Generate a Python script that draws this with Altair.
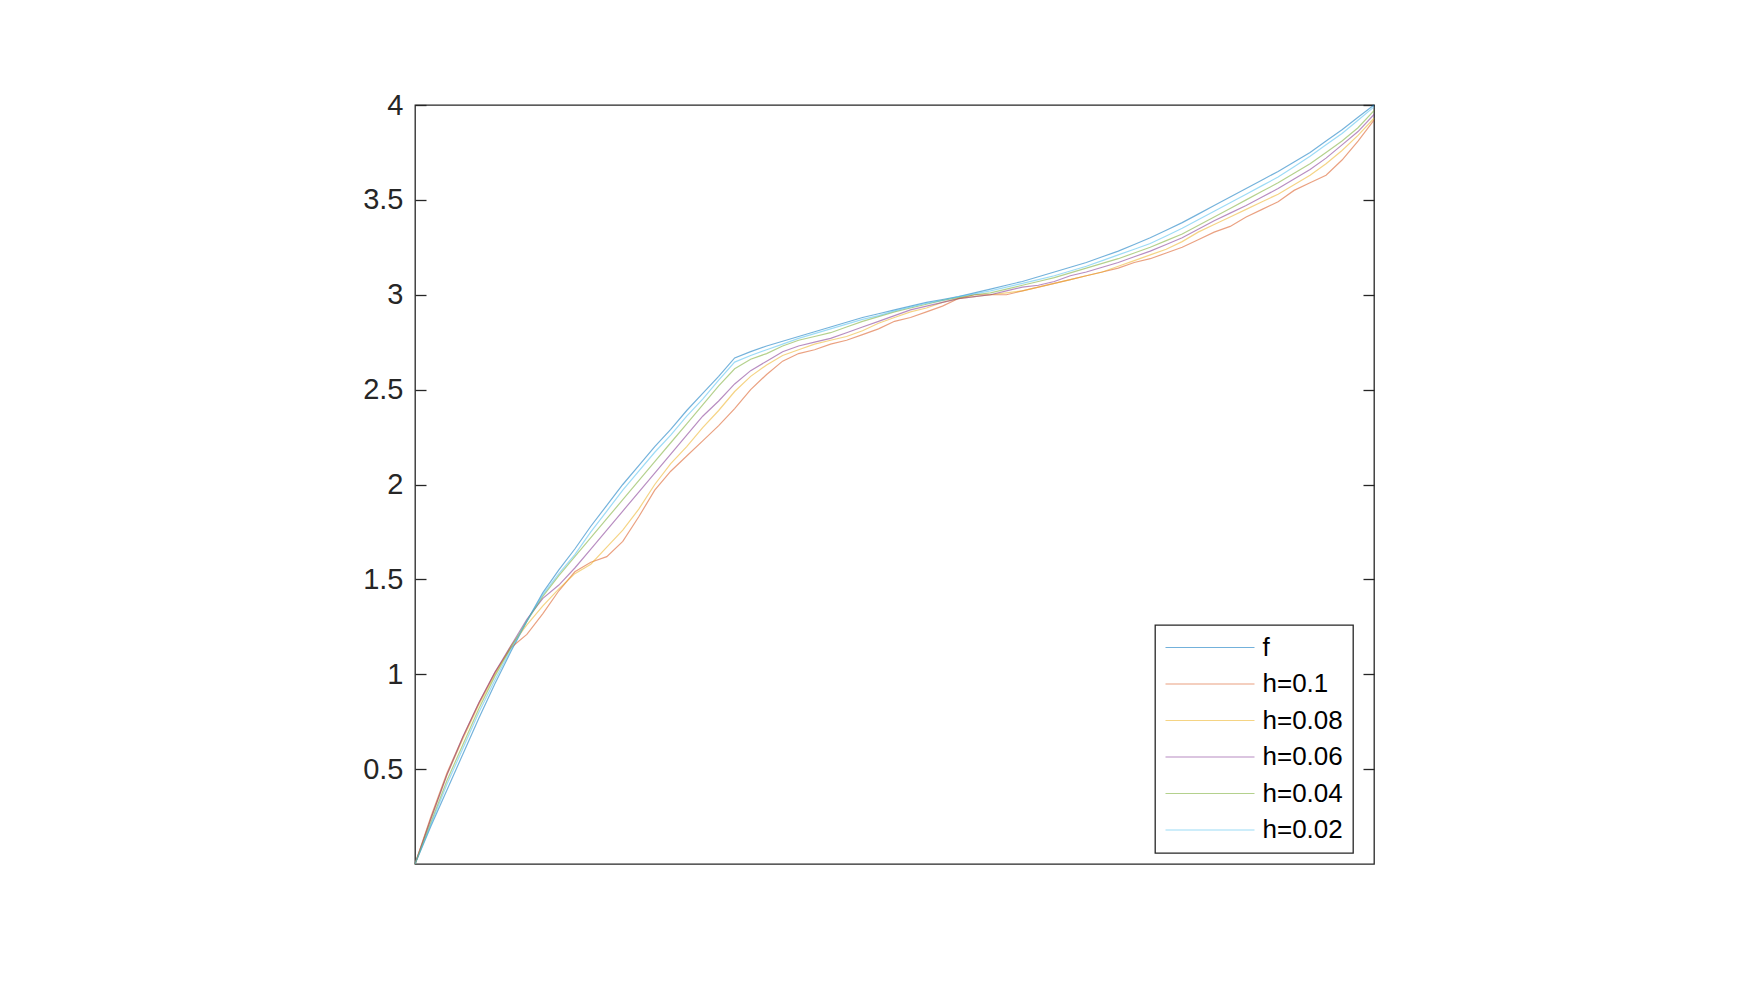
import altair as alt
import pandas as pd

# x positions (the axis carries no tick labels); 61 samples across the range
x_vals = [0.0, 0.05, 0.1, 0.15, 0.2, 0.25, 0.3, 0.35, 0.4, 0.45,
          0.5, 0.55, 0.6, 0.65, 0.7, 0.75, 0.8, 0.85, 0.9, 0.95,
          1.0, 1.05, 1.1, 1.15, 1.2, 1.25, 1.3, 1.35, 1.4, 1.45,
          1.5, 1.55, 1.6, 1.65, 1.7, 1.75, 1.8, 1.85, 1.9, 1.95,
          2.0, 2.05, 2.1, 2.15, 2.2, 2.25, 2.3, 2.35, 2.4, 2.45,
          2.5, 2.55, 2.6, 2.65, 2.7, 2.75, 2.8, 2.85, 2.9, 2.95, 3.0]

f_vals = [0, 0.20, 0.39, 0.58, 0.77, 0.95, 1.12, 1.28, 1.43, 1.55,
          1.66, 1.78, 1.89, 2.00, 2.10, 2.20, 2.29, 2.39, 2.48, 2.57,
          2.667, 2.70, 2.73, 2.755, 2.78, 2.805, 2.83, 2.855, 2.88, 2.90,
          2.92, 2.94, 2.96, 2.975, 2.99, 3.01, 3.03, 3.05, 3.07, 3.095,
          3.12, 3.145, 3.17, 3.20, 3.23, 3.265, 3.30, 3.34, 3.38, 3.425,
          3.47, 3.515, 3.56, 3.605, 3.65, 3.70, 3.75, 3.81, 3.87, 3.935, 4.0]
h010 = [0, 0.25, 0.48, 0.67, 0.85, 1.01, 1.14, 1.21, 1.32, 1.44,
        1.54, 1.59, 1.62, 1.70, 1.83, 1.97, 2.07, 2.15, 2.23, 2.31,
        2.40, 2.50, 2.58, 2.65, 2.69, 2.71, 2.74, 2.76, 2.79, 2.82,
        2.86, 2.88, 2.91, 2.94, 2.98, 3.00, 3.00, 3.00, 3.02, 3.04,
        3.06, 3.08, 3.10, 3.12, 3.14, 3.17, 3.19, 3.22, 3.25, 3.29,
        3.33, 3.36, 3.41, 3.45, 3.49, 3.55, 3.59, 3.63, 3.71, 3.81, 3.92]
h008 = [0, 0.24, 0.47, 0.66, 0.84, 1.00, 1.15, 1.26, 1.36, 1.45,
        1.53, 1.58, 1.67, 1.76, 1.87, 2.00, 2.11, 2.20, 2.30, 2.39,
        2.49, 2.57, 2.63, 2.68, 2.71, 2.74, 2.76, 2.78, 2.81, 2.85,
        2.88, 2.91, 2.93, 2.96, 2.98, 2.99, 3.00, 3.01, 3.02, 3.04,
        3.06, 3.08, 3.10, 3.12, 3.15, 3.18, 3.21, 3.24, 3.28, 3.33,
        3.37, 3.41, 3.45, 3.49, 3.53, 3.58, 3.63, 3.69, 3.76, 3.84, 3.93]
h006 = [0, 0.24, 0.47, 0.67, 0.85, 1.01, 1.15, 1.29, 1.40, 1.47,
        1.56, 1.66, 1.76, 1.86, 1.96, 2.06, 2.16, 2.26, 2.36, 2.44,
        2.53, 2.60, 2.65, 2.70, 2.73, 2.75, 2.77, 2.80, 2.83, 2.86,
        2.89, 2.92, 2.94, 2.96, 2.98, 2.99, 3.00, 3.02, 3.04, 3.05,
        3.07, 3.10, 3.12, 3.145, 3.17, 3.20, 3.23, 3.265, 3.30, 3.345,
        3.39, 3.43, 3.47, 3.515, 3.56, 3.61, 3.66, 3.72, 3.79, 3.86, 3.95]
h004 = [0, 0.22, 0.44, 0.63, 0.82, 0.99, 1.14, 1.28, 1.41, 1.52,
        1.62, 1.72, 1.82, 1.92, 2.02, 2.12, 2.22, 2.32, 2.42, 2.52,
        2.61, 2.66, 2.69, 2.73, 2.76, 2.78, 2.80, 2.83, 2.86, 2.885,
        2.91, 2.93, 2.95, 2.97, 2.985, 3.00, 3.01, 3.03, 3.05, 3.07,
        3.09, 3.115, 3.14, 3.165, 3.19, 3.22, 3.25, 3.285, 3.32, 3.365,
        3.41, 3.455, 3.50, 3.545, 3.59, 3.64, 3.69, 3.75, 3.81, 3.88, 3.97]
h002 = [0, 0.21, 0.42, 0.61, 0.80, 0.97, 1.13, 1.28, 1.42, 1.53,
        1.63, 1.75, 1.86, 1.97, 2.07, 2.17, 2.26, 2.36, 2.45, 2.55,
        2.645, 2.68, 2.71, 2.74, 2.77, 2.795, 2.82, 2.845, 2.87, 2.89,
        2.915, 2.935, 2.955, 2.97, 2.99, 3.005, 3.02, 3.04, 3.06, 3.08,
        3.10, 3.125, 3.15, 3.18, 3.21, 3.24, 3.27, 3.31, 3.35, 3.395,
        3.44, 3.485, 3.53, 3.575, 3.62, 3.675, 3.73, 3.79, 3.85, 3.92, 3.99]

series_names = ["f", "h=0.1", "h=0.08", "h=0.06", "h=0.04", "h=0.02"]
series_vals = [f_vals, h010, h008, h006, h004, h002]
colors = ["#0072BD", "#D95319", "#EDB120", "#7E2F8E", "#77AC30", "#4DBEEE"]
y_ticks = [0.5, 1, 1.5, 2, 2.5, 3, 3.5, 4]

rows = []
for name, vals in zip(series_names, series_vals):
    for xv, yv in zip(x_vals, vals):
        rows.append({"series": name, "x": xv, "y": yv})
df = pd.DataFrame(rows)

xs = alt.Scale(domain=[0, 3], nice=False, zero=False)
ys = alt.Scale(domain=[0, 4], nice=False, zero=False)

lines = alt.Chart(df).mark_line(strokeWidth=1.2, opacity=0.55).encode(
    x=alt.X("x:Q", scale=xs, axis=None),
    y=alt.Y("y:Q", scale=ys,
            axis=alt.Axis(orient="left", values=y_ticks, offset=-11, tickSize=11,
                          domain=False, grid=False, labelPadding=12, title=None,
                          format="~g")),
    color=alt.Color("series:N",
                    scale=alt.Scale(domain=series_names, range=colors),
                    legend=alt.Legend(orient="none", legendX=740, legendY=520,
                                      title=None, symbolType="stroke",
                                      symbolSize=7921, symbolStrokeWidth=1.2,
                                      symbolOpacity=0.55, labelFontSize=26,
                                      labelFont="Liberation Sans", labelColor="#000000",
                                      strokeColor="#262626", fillColor="#ffffff",
                                      padding=9.5, rowPadding=10.5, labelOffset=7,
                                      clipHeight=26)),
)

right_ticks = alt.Chart(df).mark_line(opacity=0).encode(
    x=alt.X("x:Q", scale=xs, axis=None),
    y=alt.Y("y:Q", scale=ys,
            axis=alt.Axis(orient="right", values=y_ticks, offset=-11, tickSize=11,
                          domain=False, grid=False, labels=False, title=None)),
)

chart = alt.layer(lines, right_ticks).resolve_axis(y="independent").properties(
    width=959, height=759,
    autosize=alt.AutoSizeParams(type="none"),
    padding={"left": 407, "top": 97, "right": 120, "bottom": 100},
).configure_view(
    stroke="#262626", strokeWidth=1.3
).configure_axis(
    labelFont="Liberation Sans", labelFontSize=29, labelColor="#262626",
    tickColor="#262626", tickWidth=1.3
).configure_legend(
    strokeWidth=1.3
)

chart.save("out.html", embed_options={"renderer": "svg", "actions": False})
